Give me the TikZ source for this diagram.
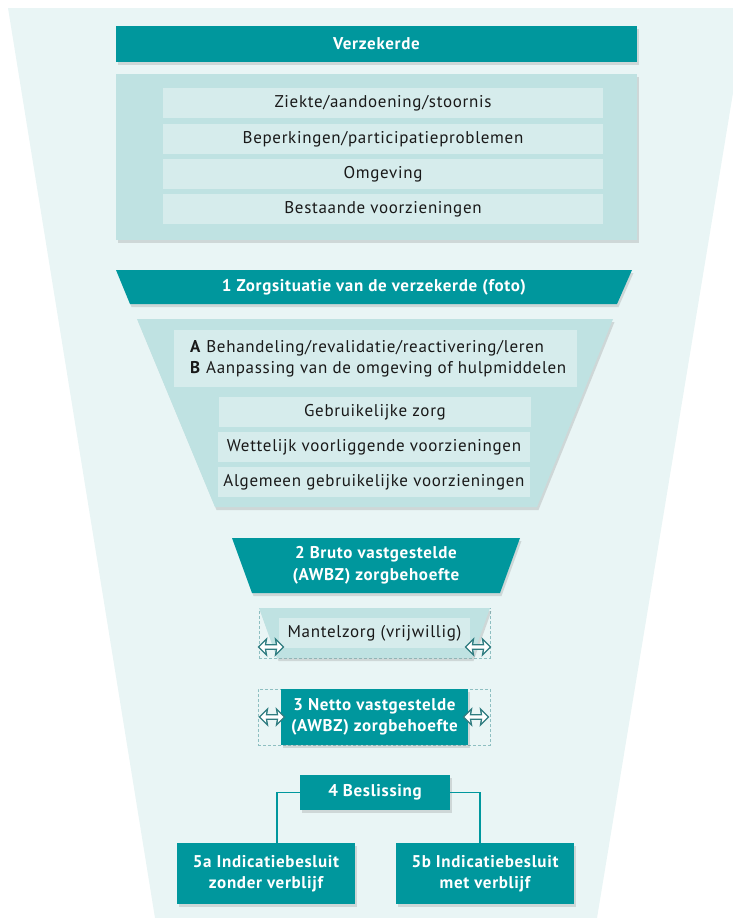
\documentclass[tikz,border=0pt]{standalone}
\usepackage{fontspec}
\setmainfont{PT Sans}[LetterSpace=4]
\usetikzlibrary{shapes.arrows,shadows,calc}
\definecolor{tealc}{HTML}{00979D}
\definecolor{boxlt}{HTML}{BFE2E2}
\definecolor{rowlt}{HTML}{D6ECEC}
\definecolor{bgc}{HTML}{E9F5F5}
\definecolor{arrc}{HTML}{2F7C80}
\definecolor{dashc}{HTML}{8EBFC1}
\begin{document}
\begin{tikzpicture}[x=1pt,y=-1pt,
  shad/.style={drop shadow={opacity=0.25,shadow xshift=1.5pt,shadow yshift=-3pt}},
  hdrtext/.style={text=white,font=\bfseries\fontsize{17}{21.5}\selectfont,align=center,inner sep=0pt},
  hdr/.style={hdrtext,fill=tealc,shad},
  rowbox/.style={fill=rowlt,text=black!90,font=\fontsize{17}{21.5}\selectfont,inner sep=0pt,align=center},
  dashbox/.style={draw=dashc,dashed,line width=0.6pt,dash pattern=on 3pt off 2pt},
  dblarrow/.style={double arrow,draw=arrc,fill=white,line width=1.3pt,minimum height=25pt,minimum width=16pt,double arrow head extend=3pt,double arrow head indent=1pt,inner sep=0.5pt},
  conn/.style={draw=tealc,line width=1.3pt}
]
\useasboundingbox (0,0) rectangle (733,918);
% background funnel
\fill[bgc] (8,8) -- (747,8) -- (597,918) -- (155,918) -- cycle;

% Verzekerde
\node[hdr,minimum width=521pt,minimum height=36pt] (verz) at (376.5,44) {Verzekerde};
\node[fill=boxlt,shad,minimum width=521pt,minimum height=166pt,inner sep=0pt] (verzbox) at (376.5,157) {};
\node[rowbox,minimum width=440pt,minimum height=30pt] (r1) at (383,103) {Ziekte/aandoening/stoornis};
\node[rowbox,minimum width=440pt,minimum height=30pt] (r2) at (383,139) {Beperkingen/participatieproblemen};
\node[rowbox,minimum width=440pt,minimum height=30pt] (r3) at (383,174) {Omgeving};
\node[rowbox,minimum width=440pt,minimum height=30pt] (r4) at (383,209) {Bestaande voorzieningen};

% 1 Zorgsituatie
\fill[tealc,shad] (116,270) -- (632,270) -- (617,304) -- (130,304) -- cycle;
\node[hdrtext] (zorg) at (374,287) {1 Zorgsituatie van de verzekerde (foto)};

% funnel 1
\fill[boxlt,shad] (137,319) -- (613,319) -- (537,507) -- (215,507) -- cycle;
\node[fill=rowlt,minimum width=403pt,minimum height=57pt,inner sep=0pt] (ab) at (375.5,358.5) {};
\node[anchor=west,text=black!90,font=\fontsize{17}{21.5}\selectfont,align=left,inner sep=0pt] (abtext) at (190,358.5) {\textbf{A} Behandeling/revalidatie/reactivering/leren\\\textbf{B} Aanpassing van de omgeving of hulpmiddelen};
\node[rowbox,minimum width=312pt,minimum height=30pt] (g1) at (375,412) {Gebruikelijke zorg};
\node[rowbox,minimum width=312pt,minimum height=30pt] (g2) at (374,447) {Wettelijk voorliggende voorzieningen};
\node[rowbox,minimum width=312pt,minimum height=30pt] (g3) at (374,482) {Algemeen gebruikelijke voorzieningen};

% 2 Bruto
\fill[tealc,shad] (232,538) -- (520,538) -- (500,593) -- (252,593) -- cycle;
\node[hdrtext] (bruto) at (376,565.5) {2 Bruto vastgestelde\\(AWBZ) zorgbehoefte};

% Mantelzorg
\node[dashbox,minimum width=231pt,minimum height=50pt,inner sep=0pt] (mantdash) at (374.5,633) {};
\fill[boxlt,shad] (259,608) -- (490,608) -- (472,658) -- (277,658) -- cycle;
\node[rowbox,minimum width=191pt,minimum height=30pt] (mant) at (374.5,633) {Mantelzorg (vrijwillig)};
\node[dblarrow] (ma1) at (271,647) {};
\node[dblarrow] (ma2) at (478,647) {};

% 3 Netto
\node[dashbox,minimum width=232pt,minimum height=56pt,inner sep=0pt] (nettodash) at (374,717) {};
\node[hdr,minimum width=187pt,minimum height=56pt] (netto) at (374.5,717) {3 Netto vastgestelde\\(AWBZ) zorgbehoefte};
\node[dblarrow] (na1) at (272,717) {};
\node[dblarrow] (na2) at (476,717) {};

% 4 Beslissing
\node[hdr,minimum width=150pt,minimum height=35pt] (besl) at (375,792.5) {4 Beslissing};
\node[hdr,minimum width=178pt,minimum height=61pt] (b5a) at (266,873.5) {5a Indicatiebesluit\\zonder verblijf};
\node[hdr,minimum width=178pt,minimum height=61pt] (b5b) at (485,873.5) {5b Indicatiebesluit\\met verblijf};
\draw[conn] (besl.west) -| ([xshift=11pt]b5a.north);
\draw[conn] (besl.east) -| ([xshift=-5pt]b5b.north);
\end{tikzpicture}
\end{document}
